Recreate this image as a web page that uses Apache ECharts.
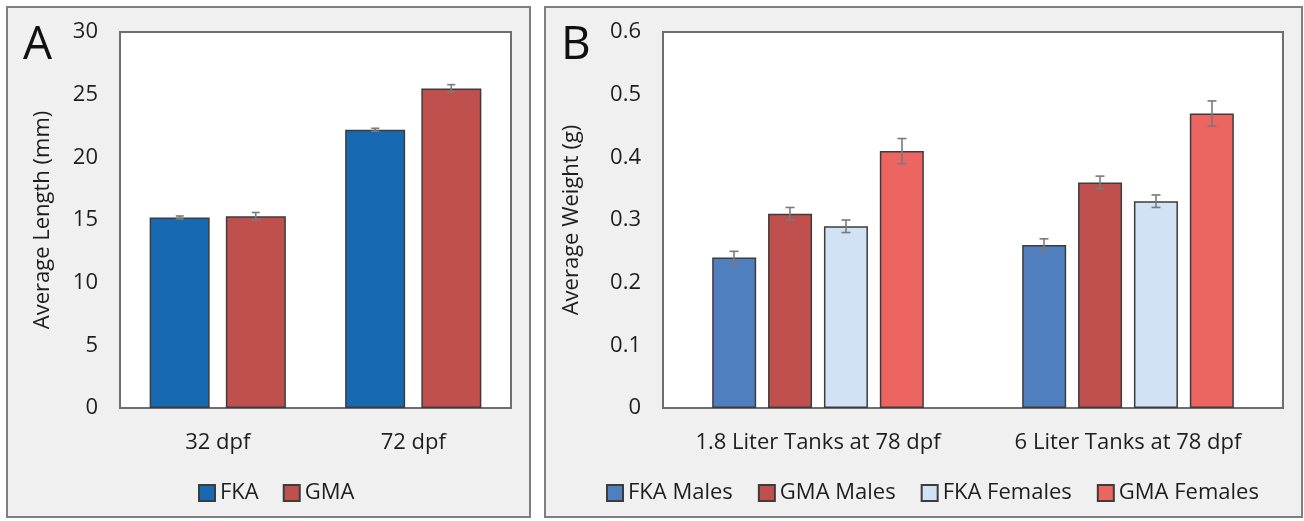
<!DOCTYPE html>
<html>
<head>
<meta charset="utf-8">
<script src="https://cdn.jsdelivr.net/npm/echarts@6/dist/echarts.min.js"></script>
<style>
  html, body { margin: 0; padding: 0; background: #fff; }
  #main { width: 1304px; height: 521px; }
</style>
</head>
<body>
<div id="main"></div>
<script>
// panel A - length
var catsA = ['32 dpf', '72 dpf'];
var fkaLength = [15.2, 22.2];
var fkaLengthErr = [0.12, 0.12];
var gmaLength = [15.3, 25.5];
var gmaLengthErr = [0.3, 0.3];

// panel B - weight
var catsB = ['1.8 Liter Tanks at 78 dpf', '6 Liter Tanks at 78 dpf'];
var fkaMales = [0.24, 0.26];
var fkaMalesErr = [0.01, 0.01];
var gmaMales = [0.31, 0.36];
var gmaMalesErr = [0.01, 0.01];
var fkaFemales = [0.29, 0.33];
var fkaFemalesErr = [0.01, 0.01];
var gmaFemales = [0.41, 0.47];
var gmaFemalesErr = [0.02, 0.02];

var FONT = 'Open Sans';
var TXT = '#1e1e1e';

var myChart = echarts.init(document.getElementById('main'));

// 误差棒
function errSeries(vals, errs, offset, xi, cap) {
    return {
        type: 'custom',
        xAxisIndex: xi,
        yAxisIndex: xi,
        z: 5,
        silent: true,
        data: vals.map(function (v, i) { return [i, v, errs[i]]; }),
        renderItem: function (params, api) {
            var i = api.value(0), v = api.value(1), e = api.value(2);
            var hi = api.coord([i, v + e]);
            var lo = api.coord([i, v - e]);
            var x = hi[0] + offset;
            var st = { stroke: '#7a7a7a', lineWidth: 1.6 };
            return {
                type: 'group',
                children: [
                    { type: 'line', shape: { x1: x, y1: hi[1], x2: x, y2: lo[1] }, style: st },
                    { type: 'line', shape: { x1: x - cap, y1: hi[1], x2: x + cap, y2: hi[1] }, style: st },
                    { type: 'line', shape: { x1: x - cap, y1: lo[1], x2: x + cap, y2: lo[1] }, style: st }
                ]
            };
        }
    };
}

function bar(name, data, color, xi, w) {
    return {
        name: name,
        type: 'bar',
        xAxisIndex: xi,
        yAxisIndex: xi,
        barWidth: w,
        barGap: '27%',
        data: data,
        itemStyle: { color: color, borderColor: '#3c3c3c', borderWidth: 1.5 }
    };
}

var tickLabel = { color: TXT, fontFamily: FONT, fontSize: 22 };

var option = {
    animation: false,
    backgroundColor: '#fff',
    graphic: [
        { type: 'rect', z: -10, shape: { x: 7, y: 7, width: 523, height: 510 },
          style: { fill: '#f0f0f0', stroke: '#7f7f7f', lineWidth: 2 } },
        { type: 'rect', z: -10, shape: { x: 545, y: 7, width: 757, height: 510 },
          style: { fill: '#f0f0f0', stroke: '#7f7f7f', lineWidth: 2 } }
    ],
    title: [
        { text: 'A', left: 18, top: 18, textStyle: { fontFamily: FONT, fontSize: 46, fontWeight: 'normal', color: '#111' } },
        { text: 'B', left: 556, top: 18, textStyle: { fontFamily: FONT, fontSize: 46, fontWeight: 'normal', color: '#111' } }
    ],
    legend: [
        {
            data: ['FKA', 'GMA'],
            left: 193, top: 477,
            icon: 'rect', itemWidth: 16, itemHeight: 16, itemGap: 24,
            textStyle: { color: TXT, fontFamily: FONT, fontSize: 22 }
        },
        {
            data: ['FKA Males', 'GMA Males', 'FKA Females', 'GMA Females'],
            left: 601, top: 477,
            icon: 'rect', itemWidth: 16, itemHeight: 16, itemGap: 25,
            textStyle: { color: TXT, fontFamily: FONT, fontSize: 22 }
        }
    ],
    grid: [
        { left: 120, top: 32, width: 391, height: 376, show: true, backgroundColor: '#fff', borderColor: '#6e6e6e', borderWidth: 2 },
        { left: 663, top: 32, width: 620, height: 376, show: true, backgroundColor: '#fff', borderColor: '#6e6e6e', borderWidth: 2 }
    ],
    xAxis: [
        {
            type: 'category', gridIndex: 0, data: catsA,
            axisLine: { show: false }, axisTick: { show: false },
            axisLabel: Object.assign({ margin: 24, interval: 0 }, tickLabel)
        },
        {
            type: 'category', gridIndex: 1, data: catsB,
            axisLine: { show: false }, axisTick: { show: false },
            axisLabel: Object.assign({ margin: 24, interval: 0 }, tickLabel)
        }
    ],
    yAxis: [
        {
            type: 'value', gridIndex: 0, min: 0, max: 30, interval: 5,
            name: 'Average Length (mm)', nameLocation: 'middle', nameGap: 66,
            nameTextStyle: { color: TXT, fontFamily: FONT, fontSize: 22 },
            axisLine: { show: false }, axisTick: { show: false }, splitLine: { show: false },
            axisLabel: Object.assign({ margin: 22 }, tickLabel)
        },
        {
            type: 'value', gridIndex: 1, min: 0, max: 0.6, interval: 0.1,
            name: 'Average Weight (g)', nameLocation: 'middle', nameGap: 80,
            nameTextStyle: { color: TXT, fontFamily: FONT, fontSize: 22 },
            axisLine: { show: false }, axisTick: { show: false }, splitLine: { show: false },
            axisLabel: Object.assign({ margin: 22 }, tickLabel)
        }
    ],
    series: [
        bar('FKA', fkaLength, '#1769b2', 0, 60),
        bar('GMA', gmaLength, '#c0504d', 0, 60),
        bar('FKA Males', fkaMales, '#4f7fbe', 1, 44),
        bar('GMA Males', gmaMales, '#c0504d', 1, 44),
        bar('FKA Females', fkaFemales, '#d0e2f3', 1, 44),
        bar('GMA Females', gmaFemales, '#ec6561', 1, 44),
        errSeries(fkaLength, fkaLengthErr, -38, 0, 4),
        errSeries(gmaLength, gmaLengthErr, 38, 0, 4),
        errSeries(fkaMales, fkaMalesErr, -84, 1, 4.5),
        errSeries(gmaMales, gmaMalesErr, -28, 1, 4.5),
        errSeries(fkaFemales, fkaFemalesErr, 28, 1, 4.5),
        errSeries(gmaFemales, gmaFemalesErr, 84, 1, 4.5)
    ]
};

myChart.setOption(option);
</script>
</body>
</html>
